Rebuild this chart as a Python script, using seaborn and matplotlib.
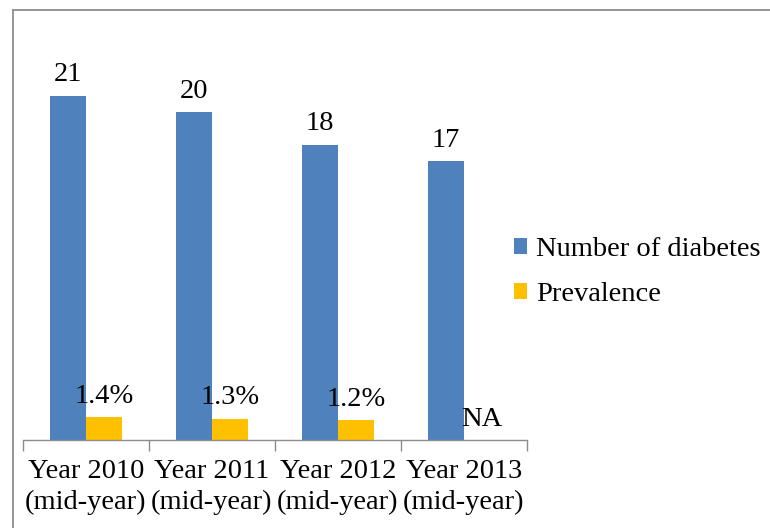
import numpy as np
import pandas as pd
import matplotlib
matplotlib.use("Agg")
import matplotlib.pyplot as plt
from matplotlib.lines import Line2D
import seaborn as sns

categories = ["Year 2010\n(mid-year)", "Year 2011\n(mid-year)",
              "Year 2012\n(mid-year)", "Year 2013\n(mid-year)"]
diabetes = [21, 20, 18, 17]
prevalence = [1.4, 1.3, 1.2, np.nan]
series_names = ["Number of diabetes", "Prevalence"]
colors = ["#4F81BD", "#FFC000"]

df = pd.DataFrame({
    "category": categories * 2,
    "series": [series_names[0]] * 4 + [series_names[1]] * 4,
    "value": diabetes + [0 if np.isnan(v) else v for v in prevalence],
})

sns.set_theme(style="white")
plt.rcParams["font.family"] = ["Liberation Serif", "DejaVu Serif"]
plt.rcParams["text.color"] = "black"
plt.rcParams["xtick.color"] = "black"
FS = 20.5

fig = plt.figure(figsize=(7.7, 5.28), dpi=100)
ax = fig.add_axes([23 / 770, 88 / 528, 504 / 770, 410 / 528])

sns.barplot(data=df, x="category", y="value", hue="series",
            palette=colors, width=0.572, saturation=1, ax=ax,
            order=categories, hue_order=series_names, linewidth=0)

ax.set_ylim(0, 25)
ax.set_xlim(-0.5, 3.5)

# labels
lab_d = [f"{v:g}" for v in diabetes]
lab_p = ["NA" if np.isnan(v) else f"{v:.1f}%" for v in prevalence]
ax.bar_label(ax.containers[0], labels=lab_d, padding=6, fontsize=FS, color="black")
ax.bar_label(ax.containers[1], labels=lab_p, padding=6, fontsize=FS, color="black")

# axes styling
for s in ["left", "right", "top"]:
    ax.spines[s].set_visible(False)
ax.spines["bottom"].set_color("#8c8c8c")
ax.spines["bottom"].set_linewidth(1.0)
ax.set_yticks([])
ax.set_xlabel("")
ax.set_ylabel("")
ax.set_xticks(np.arange(-0.5, 4, 1.0))
ax.set_xticklabels([])
ax.tick_params(axis="x", which="major", direction="out", length=8,
               color="#8c8c8c", width=1.0, bottom=True)
ax.set_xticks(np.arange(4), minor=True)
ax.set_xticklabels(categories, minor=True, fontsize=FS, linespacing=1.3,
                   color="black")
ax.tick_params(axis="x", which="minor", length=0, pad=14)

handles, labels = ax.get_legend_handles_labels()
ax.legend(handles, labels, loc="center left",
          bbox_to_anchor=(514 / 770, 1 - 272 / 528),
          bbox_transform=fig.transFigure, frameon=False, fontsize=FS,
          handlelength=0.46, handleheight=0.46, handletextpad=0.32,
          labelspacing=0.7, borderpad=0, borderaxespad=0)

# outer frame
fig.add_artist(Line2D([13 / 770, 1.0], [1 - 10 / 528, 1 - 10 / 528],
                      transform=fig.transFigure, color="#8c8c8c", lw=1.3))
fig.add_artist(Line2D([13 / 770, 13 / 770], [0, 1 - 10 / 528],
                      transform=fig.transFigure, color="#8c8c8c", lw=1.3))

fig.savefig("out.png", dpi=100)
